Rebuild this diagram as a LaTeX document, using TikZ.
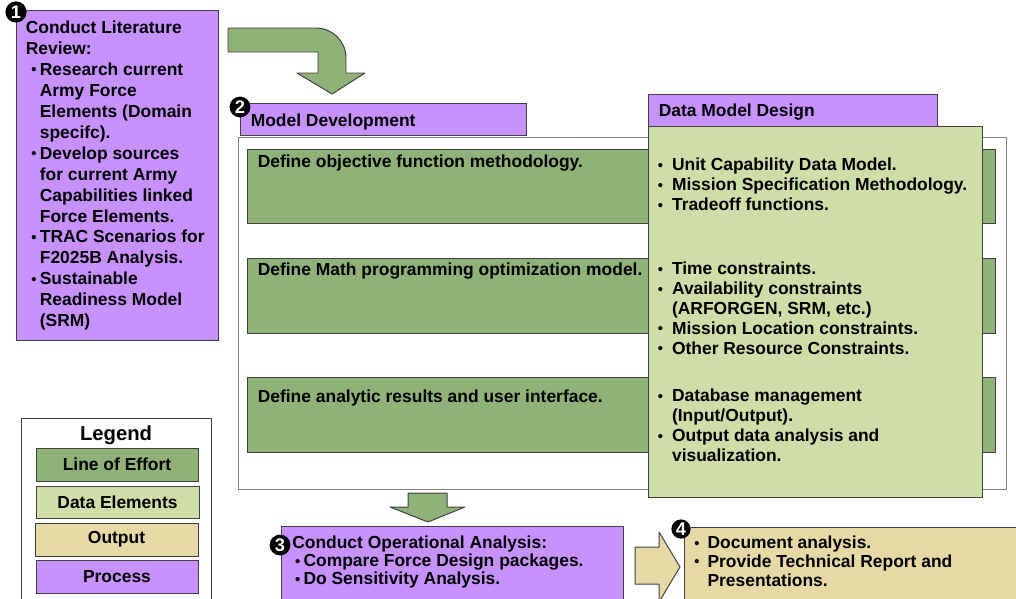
\documentclass[tikz,border=0pt]{standalone}
\usepackage{fontspec}
\setmainfont{Liberation Sans}
\usetikzlibrary{fit}

\definecolor{procpurple}{RGB}{199,145,255}
\definecolor{effortgreen}{RGB}{143,178,120}
\definecolor{datagreen}{RGB}{208,221,168}
\definecolor{outtan}{RGB}{230,217,166}
\definecolor{edgegray}{RGB}{64,64,64}

\newcommand{\bulldot}{\raisebox{0.6pt}{\scalebox{0.85}{\textbullet}}}
\newcommand{\bul}[1][10.5pt]{\makebox[#1][l]{\hspace{0.5pt}\bulldot}}
\newcommand{\bulind}[1][10.5pt]{\hspace*{#1}}
\newcommand{\sbul}{\bulind[3.5pt]\bul[6.5pt]}
\newcommand{\sind}{\bulind[10pt]}

\begin{document}
\begin{tikzpicture}[x=0.025cm, y=-0.025cm,
    box/.style = {draw=edgegray, line width=0.7pt, inner sep=0pt},
    process/.style = {box, fill=procpurple},
    effort/.style = {box, fill=effortgreen},
    data/.style = {box, fill=datagreen},
    output/.style = {box, fill=outtan},
    txt/.style = {anchor=north west, inner sep=0pt, align=left,
                  font=\fontsize{12.4}{#1}\selectfont\bfseries},
    txt/.default = 14.2,
    lgtxt/.style = {inner sep=0pt, font=\fontsize{12.4}{14}\selectfont\bfseries},
    badge/.style = {circle, fill=black, text=white, inner sep=0pt,
                    minimum size=#1, font=\fontsize{13}{13}\selectfont\bfseries},
    badge/.default = 0.53cm,
    blockarrow/.style = {draw=edgegray, line width=0.7pt, line join=round}]
    \useasboundingbox (0,0) rectangle (1016,598);
    \clip (0,0) rectangle (1016,598);

    \node[process, fit={(16,10) (218,340)}] (lit) {};
    \node[txt=14.9] (littxt) at ([shift={(10,11)}]lit.north west)
        {Conduct Literature\\ Review:\\
         \sbul Research current\\ \sind Army Force\\ \sind Elements (Domain\\ \sind specifc).\\
         \sbul Develop sources\\ \sind for current Army\\ \sind Capabilities linked\\ \sind Force Elements.\\
         \sbul TRAC Scenarios for\\ \sind F2025B Analysis.\\
         \sbul Sustainable\\ \sind Readiness Model\\ \sind (SRM)};
    \node[badge] (n1) at (16,12) {1};

    \draw[blockarrow, fill=effortgreen] (228,28) -- (316,28) .. controls (332.6,28) and (346,41.4) .. (346,58)
        -- (346,73) -- (365,73) -- (332,94) -- (297,73) -- (318,73) -- (318,52) -- (228,52) -- cycle;

    \node[box, draw=gray, fill=white, fit={(238,137) (1006,489)}] (frame) {};
    \node[process, fit={(240,103) (526,135)}] (mdtab) {};
    \node[txt] (mdtxt) at ([shift={(11,11)}]mdtab.north west) {Model Development};
    \node[badge=0.52cm] (n2) at (240,107) {2};

    \node[effort, fit={(247,149) (995,223)}] (loe1) {};
    \node[effort, fit={(247,258) (995,333)}] (loe2) {};
    \node[effort, fit={(247,377) (995,452)}] (loe3) {};
    \node[txt] (loe1txt) at ([shift={(11,6)}]loe1.north west) {Define objective function methodology.};
    \node[txt] (loe2txt) at ([shift={(11,5)}]loe2.north west) {Define Math programming optimization model.};
    \node[txt] (loe3txt) at ([shift={(11,13)}]loe3.north west) {Define analytic results and user interface.};

    \node[data, fit={(648,126) (982,497)}] (dm) {};
    \node[process, fit={(648,94) (937,126)}] (dmtab) {};
    \node[txt] (dmtxt) at ([shift={(11,10)}]dmtab.north west) {Data Model Design};
    \node[txt] (dm1) at (657,158) {\bul Unit Capability Data Model.\\ \bul Mission Specification Methodology.\\ \bul Tradeoff functions.};
    \node[txt] (dm2) at (657,262) {\bul Time constraints.\\ \bul Availability constraints\\ \bulind (ARFORGEN, SRM, etc.)\\
        \bul Mission Location constraints.\\ \bul Other Resource Constraints.};
    \node[txt] (dm3) at (657,389) {\bul Database management\\ \bulind (Input/Output).\\ \bul Output data analysis and\\ \bulind visualization.};

    \node[box, fill=white, fit={(21,418) (211,620)}] (legend) {};
    \node[font=\fontsize{14.4}{16}\selectfont\bfseries, inner sep=0pt] (lgtitle) at (116,435) {Legend};
    \node[effort, fit={(36,448) (198,481)}] (lg1) {};
    \node[data, fit={(36,486) (199,518)}] (lg2) {};
    \node[output, fit={(35,523) (198,556)}] (lg3) {};
    \node[process, fit={(36,560) (198,593)}] (lg4) {};
    \node[lgtxt] (lg1txt) at (lg1.center) {Line of Effort};
    \node[lgtxt] (lg2txt) at (lg2.center) {Data Elements};
    \node[lgtxt] (lg3txt) at (lg3.center) {Output};
    \node[lgtxt] (lg4txt) at (lg4.center) {Process};

    \draw[blockarrow, fill=effortgreen] (408,493) -- (447,493) -- (447,507) -- (465,507) -- (428,522) -- (390,507) -- (408,507) -- cycle;

    \node[process, fit={(281,526) (623,620)}] (opa) {};
    \node[txt=12.8] (opatxt) at (292,536) {Conduct Operational Analysis:\\
        \bulind[1.5pt]\bul[6.5pt]Compare Force Design packages.\\ \bulind[1.5pt]\bul[6.5pt]Do Sensitivity Analysis.};
    \node[badge=0.52cm] (n3) at (280,545) {3};

    \draw[blockarrow, fill=outtan] (635,547) -- (659,547) -- (659,532) -- (680,567) -- (659,602) -- (659,584) -- (635,584) -- cycle;

    \node[output, fit={(684,527) (1030,620)}] (doc) {};
    \node[txt=13.2] (doctxt) at (693.5,536) {\bul[9.8pt]Document analysis.\\ \bul[9.8pt]Provide Technical Report and\\ \bulind[9.8pt]Presentations.};
    \node[badge=0.48cm] (n4) at (681,529) {4};
\end{tikzpicture}
\end{document}
